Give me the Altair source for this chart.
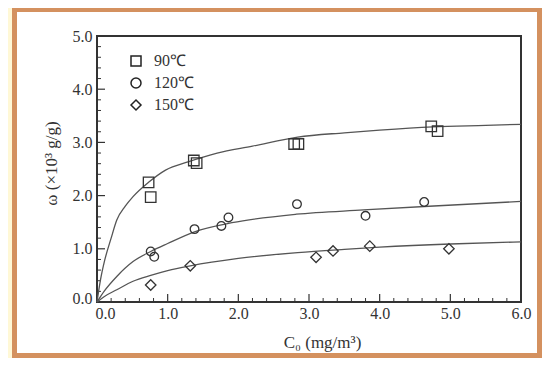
import altair as alt
import pandas as pd

series = ["90℃", "120℃", "150℃"]
shapes = ["square", "circle", "diamond"]

# measured points
x90 = [0.73, 0.76, 1.37, 1.41, 2.79, 2.85, 4.73, 4.82]
y90 = [2.25, 1.97, 2.66, 2.61, 2.97, 2.97, 3.30, 3.21]
x120 = [0.76, 0.81, 1.38, 1.76, 1.86, 2.83, 3.80, 4.63]
y120 = [0.95, 0.85, 1.37, 1.43, 1.59, 1.84, 1.62, 1.88]
x150 = [0.76, 1.32, 3.10, 3.34, 3.86, 4.98]
y150 = [0.32, 0.68, 0.84, 0.96, 1.05, 1.00]

# fitted curves
cx90 = [0, 0.05, 0.11, 0.2, 0.28, 0.4, 0.51, 0.73, 0.97, 1.3, 1.7, 2.2, 2.84, 3.5, 4.0, 4.75, 5.5, 6.0]
cy90 = [0, 0.42, 0.79, 1.2, 1.54, 1.8, 1.98, 2.25, 2.48, 2.64, 2.8, 2.93, 3.1, 3.18, 3.23, 3.29, 3.32, 3.34]
cx120 = [0, 0.1, 0.28, 0.51, 0.76, 1.0, 1.38, 1.91, 2.82, 3.77, 4.7, 6.0]
cy120 = [0, 0.2, 0.48, 0.76, 0.95, 1.1, 1.32, 1.49, 1.65, 1.73, 1.80, 1.89]
cx150 = [0, 0.1, 0.28, 0.51, 0.76, 1.0, 1.32, 2.0, 2.84, 3.5, 4.0, 5.0, 6.0]
cy150 = [0, 0.1, 0.23, 0.39, 0.5, 0.59, 0.68, 0.82, 0.93, 0.99, 1.03, 1.09, 1.13]

x_major = [0, 1, 2, 3, 4, 5, 6]
x_minor = [i / 5 for i in range(31) if i % 5]
y_major = [0, 1, 2, 3, 4, 5]
y_minor = [i / 5 for i in range(26) if i % 5]

W, H = 424, 266
PL, PT, PR, PB = 89, 28, 21, 56
FONT = "Liberation Serif"
INK = "#333333"
ORANGE = "#d4915f"
YELLOW = "#fff8d6"

pts = pd.concat([
    pd.DataFrame({"x": x90, "y": y90, "series": series[0]}),
    pd.DataFrame({"x": x120, "y": y120, "series": series[1]}),
    pd.DataFrame({"x": x150, "y": y150, "series": series[2]}),
])
curves = pd.concat([
    pd.DataFrame({"x": cx90, "y": cy90, "series": series[0]}),
    pd.DataFrame({"x": cx120, "y": cy120, "series": series[1]}),
    pd.DataFrame({"x": cx150, "y": cy150, "series": series[2]}),
])

xscale = alt.Scale(domain=[0, 6], nice=False, zero=False)
yscale = alt.Scale(domain=[0, 5], nice=False, zero=False)

xaxis = alt.Axis(
    values=x_major, format=".1f", domain=False, ticks=False, tickSize=0, grid=False,
    labelFlush=False,
    labelFont=FONT, labelFontSize=16, labelColor=INK, labelPadding=3,
    labelOffset={"condition": {"test": "datum.value == 0", "value": 8}, "value": 0},
    title="C₀ (mg/m³)", titleFont=FONT, titleFontSize=17, titleFontWeight="normal",
    titleColor=INK, titleX=225, titleY=45, titleBaseline="alphabetic", titleAlign="center",
)
yaxis = alt.Axis(
    values=y_major, format=".1f", domain=False, ticks=False, tickSize=0, grid=False,
    labelFlush=False,
    labelFont=FONT, labelFontSize=16, labelColor=INK, labelPadding=5,
    labelOffset={"condition": {"test": "datum.value == 0", "value": -4}, "value": 0},
    title="ω (×10³ g/g)", titleFont=FONT, titleFontSize=17, titleFontWeight="normal",
    titleColor=INK, titleX=-46, titleY=127, titleBaseline="middle", titleAlign="center",
    titleAngle=270,
)

X = alt.X("x:Q", scale=xscale, axis=xaxis)
Y = alt.Y("y:Q", scale=yscale, axis=yaxis)

one = pd.DataFrame({"a": [0]})


def deco(x1, x2, y1, y2, color):
    return alt.Chart(one).mark_rect(color=color, strokeWidth=0).encode(
        x=alt.value(x1), x2=alt.value(x2), y=alt.value(y1), y2=alt.value(y2)
    )


R = W + PR  # right edge of the svg in plot coordinates
B = H + PB  # bottom edge of the svg in plot coordinates
decos = [
    deco(-PL, -PL + 4, -PT, B, YELLOW),
    deco(-PL + 4, -PL + 9, -PT, B, ORANGE),
    deco(-PL + 4, R, -PT, -PT + 4, ORANGE),
    deco(R - 5, R, -PT, B, ORANGE),
    deco(-PL + 4, R, B - 5, B, ORANGE),
]

xt_major = alt.Chart(pd.DataFrame({"x": x_major})).mark_rule(color=INK, strokeWidth=1.2).encode(
    x=X, y=alt.value(H), y2=alt.value(H - 8))
xt_minor = alt.Chart(pd.DataFrame({"x": x_minor})).mark_rule(color=INK, strokeWidth=1).encode(
    x=X, y=alt.value(H), y2=alt.value(H - 4))
yt_major = alt.Chart(pd.DataFrame({"y": y_major})).mark_rule(color=INK, strokeWidth=1.2).encode(
    y=Y, x=alt.value(0), x2=alt.value(8))
yt_minor = alt.Chart(pd.DataFrame({"y": y_minor})).mark_rule(color=INK, strokeWidth=1).encode(
    y=Y, x=alt.value(0), x2=alt.value(4))

lines = alt.Chart(curves).mark_line(interpolate="monotone", color="#555555", strokeWidth=1.3).encode(
    x=X, y=Y, detail="series:N")

points = alt.Chart(pts).mark_point(filled=False, stroke=INK, strokeWidth=1.3, opacity=1).encode(
    x=X, y=Y,
    shape=alt.Shape("series:N", scale=alt.Scale(domain=series, range=shapes),
                    legend=alt.Legend(orient="none", legendX=31, legendY=17, title=None,
                                      labelFont=FONT, labelFontSize=16, labelColor=INK,
                                      symbolSize=100, symbolStrokeWidth=1.5,
                                      symbolStrokeColor="#222222", symbolFillColor="transparent",
                                      labelOffset=10, rowPadding=6, padding=0, symbolOffset=0)),
    size=alt.condition("datum.series == '120℃'", alt.value(75), alt.value(110)),
)

chart = alt.layer(*decos, xt_minor, xt_major, yt_minor, yt_major, lines, points).properties(
    width=W, height=H,
    autosize=alt.AutoSizeParams(type="none"),
    padding={"left": PL, "top": PT, "right": PR, "bottom": PB},
    background="white",
).configure_view(stroke=INK, strokeWidth=2)

chart.save("out.html", embed_options={"renderer": "svg", "actions": False})
